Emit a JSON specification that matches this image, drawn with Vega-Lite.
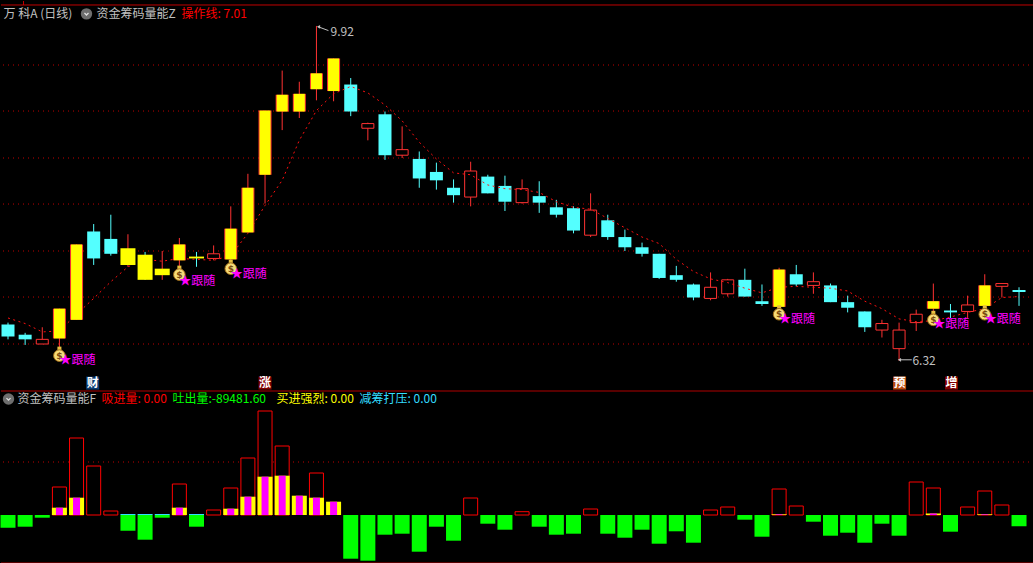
{"$schema":"https://vega.github.io/schema/vega-lite/v6.json","background":"#000000","padding":0,"spacing":0,
"config":{"view":{"stroke":null},"axis":{"disable":true},"legend":{"disable":true},"concat":{"spacing":0},"text":{"font":"Noto Sans CJK SC"}},
"datasets":{
"k":[
{"i":1,"h":6.73,"t":6.71,"b":6.58,"l":6.55,"m":"cyan","op":6.78},
{"i":2,"h":6.62,"t":6.60,"b":6.55,"l":6.49,"m":"cyan","op":6.72},
{"i":3,"h":6.68,"t":6.55,"b":6.50,"l":6.50,"m":"hollow","op":6.63},
{"i":4,"h":6.88,"t":6.88,"b":6.56,"l":6.46,"m":"edge","op":6.64},
{"i":5,"h":7.57,"t":7.57,"b":6.76,"l":6.76,"m":"edge","op":6.82},
{"i":6,"h":7.79,"t":7.71,"b":7.42,"l":7.35,"m":"cyan","op":6.99},
{"i":7,"h":7.89,"t":7.63,"b":7.47,"l":7.45,"m":"cyan","op":7.17},
{"i":8,"h":7.68,"t":7.53,"b":7.35,"l":7.33,"m":"wideUp","op":7.33},
{"i":9,"h":7.49,"t":7.46,"b":7.19,"l":7.19,"m":"wideDown","op":7.41},
{"i":10,"h":7.50,"t":7.31,"b":7.24,"l":7.19,"m":"wideUp","op":7.39},
{"i":11,"h":7.64,"t":7.57,"b":7.40,"l":7.33,"m":"edge","op":7.42},
{"i":12,"h":7.49,"t":7.44,"b":7.42,"l":7.33,"m":"wideDown","op":7.41},
{"i":13,"h":7.56,"t":7.47,"b":7.42,"l":7.40,"m":"hollow","op":7.40},
{"i":14,"h":7.98,"t":7.74,"b":7.41,"l":7.40,"m":"edge","op":7.45},
{"i":15,"h":8.33,"t":8.18,"b":7.70,"l":7.70,"m":"edge","op":7.69},
{"i":16,"h":9.01,"t":9.01,"b":8.32,"l":8.01,"m":"edge","op":7.99},
{"i":17,"h":9.44,"t":9.18,"b":9.00,"l":8.80,"m":"edge","op":8.26},
{"i":18,"h":9.32,"t":9.19,"b":9.00,"l":8.93,"m":"edge","op":8.69},
{"i":19,"h":9.92,"t":9.41,"b":9.24,"l":9.12,"m":"edge","op":9.01},
{"i":20,"h":9.57,"t":9.57,"b":9.22,"l":9.11,"m":"edge","op":9.19},
{"i":21,"h":9.36,"t":9.29,"b":9.00,"l":8.95,"m":"cyan","op":9.27},
{"i":22,"h":8.88,"t":8.87,"b":8.82,"l":8.69,"m":"hollow","op":9.20},
{"i":23,"h":9.00,"t":8.97,"b":8.53,"l":8.48,"m":"cyan","op":9.07},
{"i":24,"h":8.84,"t":8.59,"b":8.53,"l":8.50,"m":"hollow","op":8.90},
{"i":25,"h":8.57,"t":8.49,"b":8.28,"l":8.18,"m":"cyan","op":8.67},
{"i":26,"h":8.45,"t":8.35,"b":8.26,"l":8.16,"m":"cyan","op":8.49},
{"i":27,"h":8.27,"t":8.18,"b":8.10,"l":8.02,"m":"cyan","op":8.34},
{"i":28,"h":8.46,"t":8.36,"b":8.08,"l":7.98,"m":"hollow","op":8.32},
{"i":29,"h":8.32,"t":8.30,"b":8.12,"l":8.12,"m":"cyan","op":8.21},
{"i":30,"h":8.31,"t":8.20,"b":8.03,"l":7.93,"m":"cyan","op":8.17},
{"i":31,"h":8.27,"t":8.17,"b":8.02,"l":8.01,"m":"hollow","op":8.16},
{"i":32,"h":8.25,"t":8.09,"b":8.02,"l":7.91,"m":"cyan","op":8.13},
{"i":33,"h":8.05,"t":7.97,"b":7.89,"l":7.86,"m":"cyan","op":8.03},
{"i":34,"h":7.98,"t":7.96,"b":7.72,"l":7.69,"m":"cyan","op":7.97},
{"i":35,"h":8.12,"t":7.94,"b":7.67,"l":7.65,"m":"hollow","op":7.95},
{"i":36,"h":7.89,"t":7.83,"b":7.65,"l":7.62,"m":"cyan","op":7.85},
{"i":37,"h":7.73,"t":7.65,"b":7.54,"l":7.50,"m":"cyan","op":7.75},
{"i":38,"h":7.59,"t":7.54,"b":7.47,"l":7.44,"m":"cyan","op":7.65},
{"i":39,"h":7.47,"t":7.47,"b":7.21,"l":7.20,"m":"cyan","op":7.58},
{"i":40,"h":7.34,"t":7.24,"b":7.19,"l":7.17,"m":"cyan","op":7.41},
{"i":41,"h":7.15,"t":7.14,"b":7.00,"l":6.97,"m":"cyan","op":7.28},
{"i":42,"h":7.27,"t":7.11,"b":6.99,"l":6.97,"m":"hollow","op":7.20},
{"i":43,"h":7.20,"t":7.19,"b":7.04,"l":7.01,"m":"hollow","op":7.16},
{"i":44,"h":7.31,"t":7.19,"b":7.01,"l":7.01,"m":"cyan","op":7.10},
{"i":45,"h":7.14,"t":6.96,"b":6.93,"l":6.91,"m":"cyan","op":7.05},
{"i":46,"h":7.32,"t":7.30,"b":6.90,"l":6.90,"m":"edge","op":7.11},
{"i":47,"h":7.35,"t":7.25,"b":7.14,"l":7.12,"m":"cyan","op":7.12},
{"i":48,"h":7.27,"t":7.17,"b":7.13,"l":7.04,"m":"hollow","op":7.11},
{"i":49,"h":7.15,"t":7.13,"b":6.95,"l":6.95,"m":"cyan","op":7.10},
{"i":50,"h":7.02,"t":6.95,"b":6.89,"l":6.84,"m":"cyan","op":7.07},
{"i":51,"h":6.85,"t":6.85,"b":6.68,"l":6.63,"m":"cyan","op":6.96},
{"i":52,"h":6.76,"t":6.72,"b":6.65,"l":6.57,"m":"hollow","op":6.88},
{"i":53,"h":6.73,"t":6.65,"b":6.45,"l":6.32,"m":"hollow","op":6.77},
{"i":54,"h":6.87,"t":6.82,"b":6.73,"l":6.64,"m":"hollow","op":6.74},
{"i":55,"h":7.15,"t":6.96,"b":6.88,"l":6.80,"m":"edge","op":6.75},
{"i":56,"h":6.93,"t":6.86,"b":6.84,"l":6.78,"m":"cyan","op":6.79},
{"i":57,"h":7.02,"t":6.92,"b":6.85,"l":6.78,"m":"hollow","op":6.84},
{"i":58,"h":7.25,"t":7.13,"b":6.91,"l":6.84,"m":"edge","op":6.88},
{"i":59,"h":7.15,"t":7.15,"b":7.12,"l":7.00,"m":"hollow","op":7.00},
{"i":60,"h":7.11,"t":7.08,"b":7.06,"l":6.91,"m":"cyan","op":7.01}
],
"v":[
{"i":1,"vol":-101600},{"i":2,"vol":-93600},{"i":3,"vol":-21600},
{"i":4,"vol":224000,"buy":58400},{"i":5,"vol":616000,"buy":138400},{"i":6,"vol":392000},{"i":7,"vol":32000},
{"i":8,"vol":-125600,"press":8000},{"i":9,"vol":-197600,"press":8000},{"i":10,"vol":-21600,"press":8000},
{"i":11,"vol":248000,"buy":58400},{"i":12,"vol":-93600,"press":8000},{"i":13,"vol":40000},
{"i":14,"vol":216000,"buy":50400},{"i":15,"vol":456000,"buy":146400},{"i":16,"vol":832000,"buy":306400},
{"i":17,"vol":552000,"buy":314400},{"i":18,"vol":154400,"buy":154400},{"i":19,"vol":336000,"buy":138400},{"i":20,"vol":106400,"buy":106400},
{"i":21,"vol":-349600},{"i":22,"vol":-365600},{"i":23,"vol":-157600},{"i":24,"vol":-149600},{"i":25,"vol":-293600},
{"i":26,"vol":-93600},{"i":27,"vol":-205600},{"i":28,"vol":136000},{"i":29,"vol":-69600},{"i":30,"vol":-117600},
{"i":31,"vol":26400},{"i":32,"vol":-93600},{"i":33,"vol":-157600},{"i":34,"vol":-149600},{"i":35,"vol":48000},
{"i":36,"vol":-149600},{"i":37,"vol":-181600},{"i":38,"vol":-117600},{"i":39,"vol":-229600},{"i":40,"vol":-130400},
{"i":41,"vol":-221600},{"i":42,"vol":40000},{"i":43,"vol":64000},{"i":44,"vol":-37600},{"i":45,"vol":-173600},
{"i":46,"vol":208000,"buy":5600},{"i":47,"vol":72000},{"i":48,"vol":-53600},{"i":49,"vol":-165600},{"i":50,"vol":-141600},
{"i":51,"vol":-221600},{"i":52,"vol":-69600},{"i":53,"vol":-165600},{"i":54,"vol":264000},{"i":55,"vol":216000,"buy":12000},
{"i":56,"vol":-133600},{"i":57,"vol":64000},{"i":58,"vol":192000,"buy":5600},{"i":59,"vol":80000},{"i":60,"vol":-89481.6}
],
"bags":[
{"i":4,"bag":6.375,"lab":6.33,"t":"★跟随"},
{"i":11,"bag":7.246,"lab":7.18,"t":"★跟随"},
{"i":14,"bag":7.31,"lab":7.25,"t":"★跟随"},
{"i":46,"bag":6.82,"lab":6.77,"t":"★跟随"},
{"i":55,"bag":6.76,"lab":6.72,"t":"★跟随"},
{"i":58,"bag":6.82,"lab":6.77,"t":"★跟随"}
],
"events":[
{"i":5.94,"p":6.08,"s":"财","t":"财"},
{"i":16,"p":6.08,"s":"涨","t":"涨"},
{"i":53.03,"p":6.08,"s":"预","t":"预"},
{"i":56.06,"p":6.08,"s":"增","t":"增"}
],
"head1":[
{"i":0.737,"p":10.05,"s":"title","t":"万 科A (日线)"},
{"i":6.165,"p":10.05,"s":"title","t":"资金筹码量能Z"},
{"i":11.125,"p":10.05,"s":"操作线","t":"操作线: 7.01"},
{"i":19.82,"p":9.86,"s":"title","t":"9.92"},
{"i":53.78,"p":6.32,"s":"title","t":"6.32"}
],
"head2":[
{"i":1.554,"p":928000,"s":"title","t":"资金筹码量能F"},
{"i":6.456,"p":928000,"s":"操作线","t":"吸进量: 0.00"},
{"i":10.6,"p":928000,"s":"吐出量","t":"吐出量:-89481.60"},
{"i":16.67,"p":928000,"s":"买进强烈","t":"买进强烈: 0.00"},
{"i":21.51,"p":928000,"s":"减筹打压","t":"减筹打压: 0.00"}
],
"extreme":[
{"i":19.12,"i2":19.70,"p":9.91,"p2":9.87},
{"i":53.02,"i2":53.74,"p":6.33,"p2":6.33}
]
},
"vconcat":[
{"width":1033,"height":389,
"encoding":{"x":{"field":"i","type":"quantitative","scale":{"domain":[0.5915,60.874],"nice":false,"zero":false,"padding":0}}},
"layer":[
{"data":{"values":[{"p":9.5},{"p":9.005},{"p":8.5},{"p":8.005},{"p":7.5},{"p":7.005},{"p":6.5}]},"mark":{"type":"rule","color":"#c00000","strokeWidth":1,"strokeDash":[1,4]},"encoding":{"x":null,"y":{"field":"p","type":"quantitative","scale":{"domain":[6.0054,10.1882],"nice":false,"zero":false}}}},
{"data":{"values":[{"p":10.1452}]},"mark":{"type":"rule","color":"#c00000","strokeWidth":1},"encoding":{"x":null,"y":{"field":"p","type":"quantitative"}}},
{"data":{"values":[{"i":1.905,"p":10.1882,"p2":10.1452}]},"mark":{"type":"rule","color":"#c00000","strokeWidth":1},"encoding":{"y":{"field":"p","type":"quantitative"},"y2":{"field":"p2"}}},
{"data":{"name":"k"},"transform":[{"filter":{"field":"m","oneOf":["hollow","edge","wideUp"]}}],"mark":{"type":"rule","color":"#ff3232","strokeWidth":1},"encoding":{"y":{"field":"h","type":"quantitative"},"y2":{"field":"l"}}},
{"data":{"name":"k"},"transform":[{"filter":{"field":"m","oneOf":["cyan","wideDown"]}}],"mark":{"type":"rule","color":"#54ffff","strokeWidth":1},"encoding":{"y":{"field":"h","type":"quantitative"},"y2":{"field":"l"}}},
{"data":{"name":"k"},"transform":[{"filter":{"field":"m","equal":"cyan"}}],"mark":{"type":"bar","size":13,"color":"#54ffff"},"encoding":{"y":{"field":"t","type":"quantitative"},"y2":{"field":"b"}}},
{"data":{"name":"k"},"transform":[{"filter":{"field":"m","equal":"hollow"}}],"mark":{"type":"bar","size":12,"fill":"#000000","stroke":"#ff3232","strokeWidth":1},"encoding":{"y":{"field":"t","type":"quantitative"},"y2":{"field":"b"}}},
{"data":{"name":"k"},"mark":{"type":"line","color":"#ff1010","strokeWidth":1,"strokeDash":[2,3.5]},"encoding":{"y":{"field":"op","type":"quantitative"}}},
{"data":{"name":"k"},"transform":[{"filter":{"field":"m","equal":"edge"}}],"mark":{"type":"bar","size":13,"color":"#ff3232"},"encoding":{"y":{"field":"t","type":"quantitative"},"y2":{"field":"b"}}},
{"data":{"name":"k"},"transform":[{"filter":{"field":"m","equal":"edge"}}],"mark":{"type":"bar","size":11,"color":"#ffff00"},"encoding":{"y":{"field":"t","type":"quantitative"},"y2":{"field":"b"}}},
{"data":{"name":"k"},"transform":[{"filter":{"field":"m","oneOf":["wideUp","wideDown"]}}],"mark":{"type":"bar","size":15,"color":"#ffff00"},"encoding":{"y":{"field":"t","type":"quantitative"},"y2":{"field":"b"}}},
{"data":{"name":"bags"},"mark":{"type":"point","shape":"square","size":16,"filled":true,"color":"#e8c040","yOffset":-7,"opacity":1},"encoding":{"y":{"field":"bag","type":"quantitative"}}},
{"data":{"name":"bags"},"mark":{"type":"point","shape":"circle","size":135,"filled":true,"fill":"#f5dc78","stroke":"#a06c18","strokeWidth":1,"opacity":1},"encoding":{"y":{"field":"bag","type":"quantitative"}}},
{"data":{"name":"bags"},"mark":{"type":"text","text":"$","fontSize":9,"fontWeight":"bold","color":"#7a4a10","font":"DejaVu Sans","baseline":"middle"},"encoding":{"y":{"field":"bag","type":"quantitative"}}},
{"data":{"name":"bags"},"mark":{"type":"text","align":"left","baseline":"middle","fontSize":12,"color":"#ff00ff"},"encoding":{"y":{"field":"lab","type":"quantitative"},"text":{"field":"t"}}},
{"data":{"name":"events"},"mark":{"type":"point","shape":"square","size":169,"filled":true,"opacity":1},"encoding":{"y":{"field":"p","type":"quantitative"},"color":{"field":"s","scale":{"domain":["title","操作线","吐出量","买进强烈","减筹打压","财","涨","预","增"],"range":["#c0c0c0","#ff0000","#00ff00","#ffff00","#33ddff","#0a3a70","#800000","#b84a10","#800000"]}}}},
{"data":{"name":"events"},"mark":{"type":"text","fontSize":12,"fontWeight":"bold","color":"#ffffff","baseline":"middle"},"encoding":{"y":{"field":"p","type":"quantitative"},"text":{"field":"t"}}},
{"data":{"name":"extreme"},"mark":{"type":"rule","color":"#c0c0c0","strokeWidth":1},"encoding":{"y":{"field":"p","type":"quantitative"},"x2":{"field":"i2"},"y2":{"field":"p2"}}},
{"data":{"name":"extreme"},"mark":{"type":"point","shape":"triangle-left","size":14,"filled":true,"color":"#c0c0c0","opacity":1},"encoding":{"y":{"field":"p","type":"quantitative"}}},
{"data":{"values":[{"i":5.58,"p":10.05}]},"mark":{"type":"point","shape":"circle","size":130,"filled":true,"color":"#6e6e6e","opacity":1},"encoding":{"y":{"field":"p","type":"quantitative"}}},
{"data":{"values":[{"i":5.58,"p":10.05}]},"mark":{"type":"point","shape":"M-0.6,-0.25L0,0.35L0.6,-0.25","size":45,"filled":false,"color":"#e0e0e0","strokeWidth":1.3,"opacity":1},"encoding":{"y":{"field":"p","type":"quantitative"}}},
{"data":{"name":"head1"},"mark":{"type":"text","align":"left","baseline":"middle","fontSize":12},"encoding":{"y":{"field":"p","type":"quantitative"},"text":{"field":"t"},"color":{"field":"s","scale":{"domain":["title","操作线","吐出量","买进强烈","减筹打压","财","涨","预","增"],"range":["#c0c0c0","#ff0000","#00ff00","#ffff00","#33ddff","#0a3a70","#800000","#b84a10","#800000"]}}}}
]},
{"width":1033,"height":174,
"encoding":{"x":{"field":"i","type":"quantitative","scale":{"domain":[0.5915,60.874],"nice":false,"zero":false,"padding":0}}},
"layer":[
{"data":{"values":[{"p":424000}]},"mark":{"type":"rule","color":"#c00000","strokeWidth":1,"strokeDash":[1,4]},"encoding":{"x":null,"y":{"field":"p","type":"quantitative","scale":{"domain":[-392000,1000000],"nice":false,"zero":false}}}},
{"data":{"values":[{"p":992000},{"p":-384000}]},"mark":{"type":"rule","color":"#b00000","strokeWidth":1},"encoding":{"x":null,"y":{"field":"p","type":"quantitative"}}},
{"data":{"name":"v"},"transform":[{"filter":"datum.vol<0"}],"mark":{"type":"bar","size":15,"color":"#00ff00"},"encoding":{"y":{"field":"vol","type":"quantitative"},"y2":{"datum":0}}},
{"data":{"name":"v"},"transform":[{"filter":"datum.press>0"}],"mark":{"type":"bar","size":15,"color":"#33ddff"},"encoding":{"y":{"field":"press","type":"quantitative"},"y2":{"datum":0}}},
{"data":{"name":"v"},"transform":[{"filter":"datum.vol>0 && !(datum.buy>=datum.vol)"}],"mark":{"type":"bar","size":14,"fill":"#000000","stroke":"#ff0000","strokeWidth":1},"encoding":{"y":{"field":"vol","type":"quantitative"},"y2":{"datum":0}}},
{"data":{"name":"v"},"transform":[{"filter":"datum.buy>0"}],"mark":{"type":"bar","size":15,"color":"#ffff00"},"encoding":{"y":{"field":"buy","type":"quantitative"},"y2":{"datum":0}}},
{"data":{"name":"v"},"transform":[{"filter":"datum.buy>0"}],"mark":{"type":"bar","size":7,"color":"#ff00ff"},"encoding":{"y":{"field":"buy","type":"quantitative"},"y2":{"datum":0}}},
{"data":{"values":[{"i":1.03,"p":928000}]},"mark":{"type":"point","shape":"circle","size":130,"filled":true,"color":"#6e6e6e","opacity":1},"encoding":{"y":{"field":"p","type":"quantitative"}}},
{"data":{"values":[{"i":1.03,"p":928000}]},"mark":{"type":"point","shape":"M-0.6,-0.25L0,0.35L0.6,-0.25","size":45,"filled":false,"color":"#e0e0e0","strokeWidth":1.3,"opacity":1},"encoding":{"y":{"field":"p","type":"quantitative"}}},
{"data":{"name":"head2"},"mark":{"type":"text","align":"left","baseline":"middle","fontSize":12},"encoding":{"y":{"field":"p","type":"quantitative"},"text":{"field":"t"},"color":{"field":"s","scale":{"domain":["title","操作线","吐出量","买进强烈","减筹打压","财","涨","预","增"],"range":["#c0c0c0","#ff0000","#00ff00","#ffff00","#33ddff","#0a3a70","#800000","#b84a10","#800000"]}}}}
]}
]}
